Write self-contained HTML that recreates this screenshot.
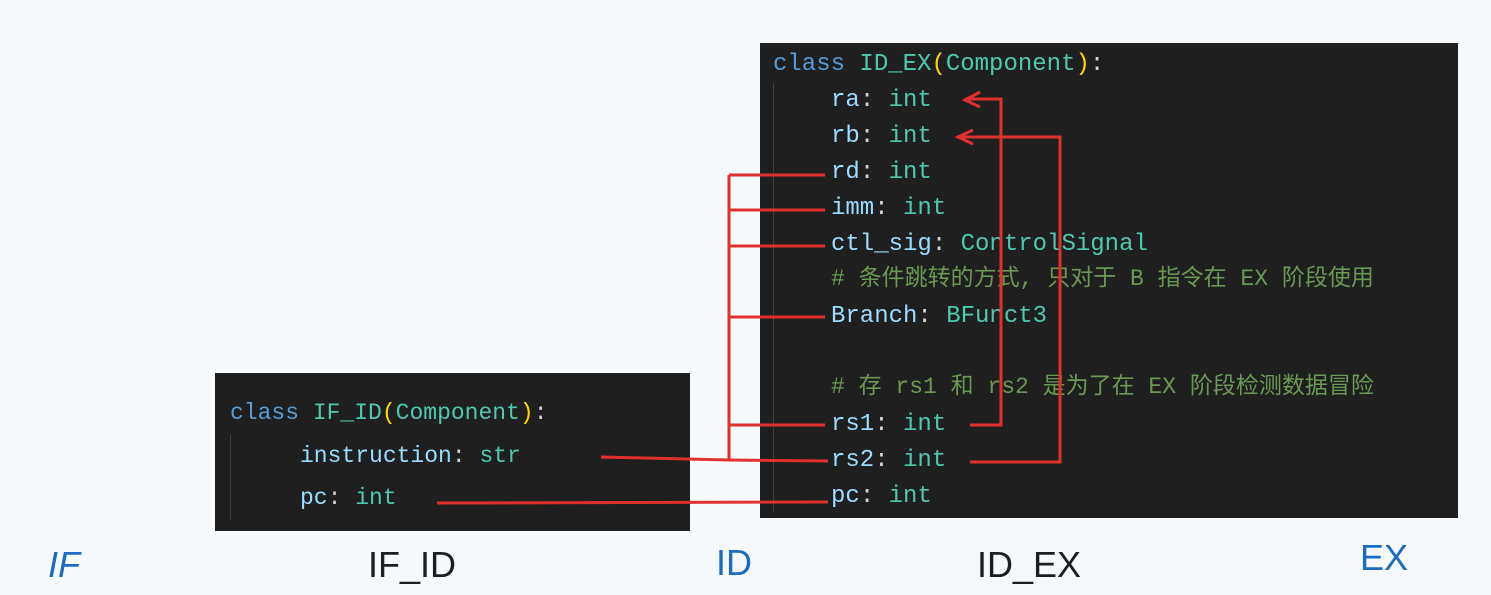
<!DOCTYPE html>
<html><head><meta charset="utf-8"><style>
body{margin:0;width:1491px;height:595px;background:#f5f9fc;position:relative;overflow:hidden;font-family:"Liberation Mono","Noto Sans CJK SC",monospace}
.box{position:absolute;background:#1f1f1f}
.t{position:absolute;white-space:pre;line-height:1}
.k{color:#569cd6}.c{color:#4ec9b0}.p{color:#ffd700}.f{color:#9cdcfe}.w{color:#d4d4d4}.m{color:#6a9955}
.lbl{position:absolute;font-family:"Liberation Sans",sans-serif;font-size:36px;line-height:1}
</style></head><body>
<div class="box" style="left:760px;top:43px;width:698px;height:475px"></div>
<div class="box" style="left:215px;top:373px;width:475px;height:158px"></div>
<div style="position:absolute;left:773px;top:83px;width:1px;height:430px;background:#404040"></div>
<div style="position:absolute;left:230px;top:435px;width:1px;height:85px;background:#404040"></div>
<div style="font-size:24px">
<div class="t" style="left:773px;top:53px"><span class="k">class</span> <span class="c">ID_EX</span><span class="p">(</span><span class="c">Component</span><span class="p">)</span><span class="w">:</span></div>
<div class="t" style="left:831px;top:89px"><span class="f">ra</span><span class="w">: </span><span class="c">int</span></div>
<div class="t" style="left:831px;top:125px"><span class="f">rb</span><span class="w">: </span><span class="c">int</span></div>
<div class="t" style="left:831px;top:161px"><span class="f">rd</span><span class="w">: </span><span class="c">int</span></div>
<div class="t" style="left:831px;top:197px"><span class="f">imm</span><span class="w">: </span><span class="c">int</span></div>
<div class="t" style="left:831px;top:233px"><span class="f">ctl_sig</span><span class="w">: </span><span class="c">ControlSignal</span></div>
<div class="t m" style="left:831px;top:268px;font-size:23px"># 条件跳转的方式, 只对于 B 指令在 EX 阶段使用</div>
<div class="t" style="left:831px;top:305px"><span class="f">Branch</span><span class="w">: </span><span class="c">BFunct3</span></div>
<div class="t m" style="left:831px;top:376px;font-size:23px"># 存 rs1 和 rs2 是为了在 EX 阶段检测数据冒险</div>
<div class="t" style="left:831px;top:413px"><span class="f">rs1</span><span class="w">: </span><span class="c">int</span></div>
<div class="t" style="left:831px;top:449px"><span class="f">rs2</span><span class="w">: </span><span class="c">int</span></div>
<div class="t" style="left:831px;top:485px"><span class="f">pc</span><span class="w">: </span><span class="c">int</span></div>
</div>
<div style="font-size:23px">
<div class="t" style="left:230px;top:402px"><span class="k">class</span> <span class="c">IF_ID</span><span class="p">(</span><span class="c">Component</span><span class="p">)</span><span class="w">:</span></div>
<div class="t" style="left:300px;top:445px"><span class="f">instruction</span><span class="w">: </span><span class="c">str</span></div>
<div class="t" style="left:300px;top:487px"><span class="f">pc</span><span class="w">: </span><span class="c">int</span></div>
</div>
<svg width="1491" height="595" style="position:absolute;left:0;top:0" fill="none" stroke="#e03030" stroke-width="3">
<path d="M729 175V460"/>
<path d="M729 175H825M729 210H825M729 246H825M729 317H825M729 425H825"/>
<path d="M601 457L729 460L828 461"/>
<path d="M437 503L828 502"/>
<path d="M970 425H1001V99H965M980 92L965 100L980 107"/>
<path d="M970 462H1060V137H958M973 130L958 137L973 144"/>
</svg>
<div class="lbl" style="left:48px;top:547px;color:#1c6dc0;font-style:italic">IF</div>
<div class="lbl" style="left:368px;top:547px;color:#1e1e1e">IF_ID</div>
<div class="lbl" style="left:716px;top:545px;color:#1c6dc0">ID</div>
<div class="lbl" style="left:977px;top:547px;color:#1e1e1e">ID_EX</div>
<div class="lbl" style="left:1360px;top:540px;color:#1c6dc0">EX</div>
</body></html>
